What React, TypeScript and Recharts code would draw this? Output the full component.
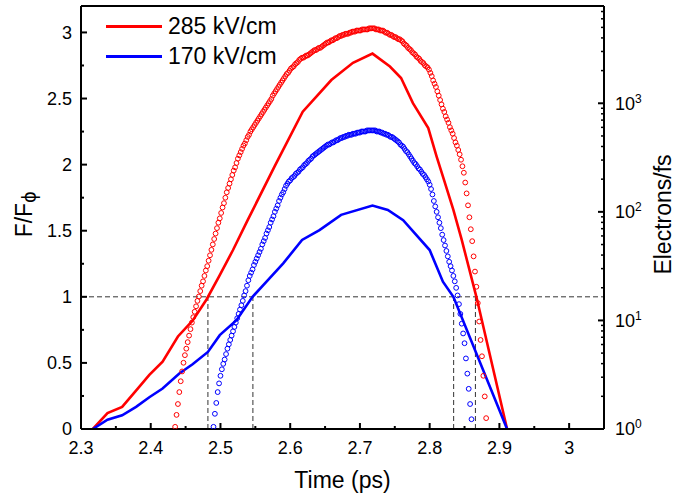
import React from 'react';
import { LineChart, Line, XAxis, YAxis, ReferenceLine, Legend } from 'recharts';

const FONT = '"Liberation Sans", Arial, Helvetica, sans-serif';
const RED = '#ff0000';
const BLUE = '#0000ff';
const DASH = '#333333';

const seriesNames = ['285 kV/cm', '170 kV/cm'];

// F/F(phi), left axis, solid lines
const redFieldTime = [2.317, 2.338, 2.359, 2.378, 2.398, 2.417, 2.439, 2.46, 2.48, 2.499, 2.518, 2.539, 2.578, 2.618, 2.659, 2.69, 2.718, 2.743, 2.759, 2.776, 2.798, 2.81, 2.822, 2.834, 2.846, 2.867, 2.911];
const redField = [0, 0.12, 0.167, 0.285, 0.41, 0.51, 0.7, 0.82, 0.98, 1.164, 1.354, 1.58, 1.99, 2.4, 2.64, 2.77, 2.84, 2.742, 2.655, 2.465, 2.276, 2.06, 1.86, 1.657, 1.43, 1.0, 0];

const blueFieldTime = [2.317, 2.338, 2.359, 2.379, 2.398, 2.417, 2.441, 2.46, 2.482, 2.499, 2.523, 2.546, 2.568, 2.59, 2.617, 2.642, 2.673, 2.718, 2.74, 2.762, 2.8, 2.819, 2.834, 2.911];
const blueField = [0, 0.07, 0.104, 0.167, 0.24, 0.306, 0.42, 0.49, 0.583, 0.71, 0.823, 1.0, 1.127, 1.253, 1.43, 1.505, 1.62, 1.69, 1.657, 1.58, 1.354, 1.114, 1.0, 0];

// Electrons/fs, right log axis: values read as decades (log10), one marker every 0.002 ps
const markerStep = 0.002;
const redElectronsStart = 2.435;
const redElectronsLog = [
  0.02, 0.13, 0.23, 0.34, 0.44, 0.53, 0.61, 0.68, 0.74, 0.8, 0.86, 0.92, 0.98, 1.03, 1.08, 1.13, 1.18, 1.22, 1.27, 1.32,
  1.36, 1.41, 1.46, 1.5, 1.55, 1.6, 1.65, 1.7, 1.75, 1.8, 1.85, 1.9, 1.94, 1.99, 2.04, 2.08, 2.13, 2.18, 2.22, 2.26,
  2.3, 2.34, 2.38, 2.41, 2.45, 2.49, 2.52, 2.55, 2.58, 2.61, 2.63, 2.66, 2.69, 2.71, 2.74, 2.76, 2.78, 2.8, 2.82, 2.84,
  2.86, 2.88, 2.9, 2.92, 2.94, 2.96, 2.98, 3.0, 3.02, 3.04, 3.07, 3.09, 3.11, 3.13, 3.15, 3.17, 3.19, 3.21, 3.23, 3.25,
  3.27, 3.28, 3.3, 3.32, 3.33, 3.34, 3.36, 3.37, 3.38, 3.4, 3.41, 3.42, 3.42, 3.43, 3.44, 3.44, 3.45, 3.46, 3.47, 3.48,
  3.49, 3.49, 3.5, 3.51, 3.51, 3.52, 3.53, 3.54, 3.55, 3.56, 3.56, 3.57, 3.58, 3.58, 3.59, 3.6, 3.6, 3.61, 3.62, 3.62,
  3.63, 3.63, 3.64, 3.64, 3.64, 3.65, 3.65, 3.66, 3.66, 3.66, 3.67, 3.67, 3.67, 3.67, 3.68, 3.68, 3.68, 3.68, 3.68, 3.69,
  3.69, 3.69, 3.69, 3.69, 3.68, 3.68, 3.68, 3.67, 3.67, 3.67, 3.66, 3.65, 3.65, 3.64, 3.63, 3.63, 3.62, 3.61, 3.61, 3.6,
  3.59, 3.59, 3.58, 3.57, 3.55, 3.54, 3.53, 3.51, 3.5, 3.49, 3.47, 3.46, 3.45, 3.43, 3.42, 3.41, 3.39, 3.38, 3.37, 3.35,
  3.34, 3.33, 3.31, 3.28, 3.25, 3.21, 3.18, 3.15, 3.11, 3.07, 3.03, 2.99, 2.95, 2.92, 2.88, 2.85, 2.82, 2.78, 2.75, 2.72,
  2.68, 2.64, 2.61, 2.57, 2.53, 2.48, 2.42, 2.36, 2.27, 2.17, 2.06, 1.95, 1.84, 1.73, 1.59, 1.45, 1.31, 1.16, 0.99, 0.82,
  0.67, 0.49, 0.3, 0.1,
];
const blueElectronsStart = 2.49;
const blueElectronsLog = [
  0.02, 0.14, 0.24, 0.34, 0.42, 0.49, 0.55, 0.6, 0.64, 0.69, 0.74, 0.78, 0.82, 0.86, 0.9, 0.94, 0.98, 1.02, 1.06, 1.1,
  1.14, 1.18, 1.23, 1.27, 1.32, 1.37, 1.41, 1.44, 1.47, 1.51, 1.54, 1.57, 1.6, 1.63, 1.66, 1.7, 1.73, 1.76, 1.8, 1.83,
  1.86, 1.9, 1.93, 1.96, 2.0, 2.03, 2.06, 2.1, 2.13, 2.16, 2.18, 2.21, 2.24, 2.26, 2.28, 2.29, 2.31, 2.32, 2.33, 2.35,
  2.36, 2.37, 2.39, 2.4, 2.41, 2.43, 2.44, 2.45, 2.47, 2.48, 2.49, 2.51, 2.52, 2.53, 2.54, 2.55, 2.56, 2.57, 2.58, 2.59,
  2.6, 2.61, 2.62, 2.62, 2.63, 2.64, 2.64, 2.65, 2.66, 2.66, 2.67, 2.68, 2.68, 2.69, 2.69, 2.7, 2.7, 2.71, 2.71, 2.71,
  2.72, 2.72, 2.72, 2.73, 2.73, 2.73, 2.74, 2.74, 2.74, 2.74, 2.75, 2.75, 2.75, 2.75, 2.75, 2.75, 2.75, 2.74, 2.74, 2.74,
  2.73, 2.73, 2.72, 2.72, 2.71, 2.71, 2.7, 2.69, 2.69, 2.68, 2.67, 2.66, 2.65, 2.64, 2.62, 2.61, 2.6, 2.58, 2.56, 2.55,
  2.53, 2.51, 2.49, 2.47, 2.45, 2.44, 2.42, 2.4, 2.39, 2.37, 2.35, 2.34, 2.32, 2.3, 2.28, 2.25, 2.21, 2.16, 2.1, 2.05,
  2.0, 1.95, 1.9, 1.85, 1.79, 1.74, 1.69, 1.64, 1.59, 1.54, 1.5, 1.46, 1.41, 1.36, 1.3, 1.23, 1.15, 1.06, 0.97, 0.88,
  0.79, 0.65, 0.51, 0.37, 0.23, 0.09,
];

// threshold F/F(phi) = 1 and the times where the field crosses it
const thresholdField = 1;
const crossingTimes = [2.482, 2.5465, 2.8344, 2.8656];

const xTicks = [2.3, 2.35, 2.4, 2.45, 2.5, 2.55, 2.6, 2.65, 2.7, 2.75, 2.8, 2.85, 2.9, 2.95, 3, 3.05];
const leftTicks = [0, 0.25, 0.5, 0.75, 1, 1.25, 1.5, 1.75, 2, 2.25, 2.5, 2.75, 3];
const rightTicks = [
  1, 2, 3, 4, 5, 6, 7, 8, 9,
  10, 20, 30, 40, 50, 60, 70, 80, 90,
  100, 200, 300, 400, 500, 600, 700, 800, 900,
  1000, 2000, 3000, 4000, 5000, 6000, 7000,
];

const redFieldData = redFieldTime.map((t, i) => ({ t, f: redField[i] }));
const blueFieldData = blueFieldTime.map((t, i) => ({ t, f: blueField[i] }));
const redElectronData = redElectronsLog.map((v, i) => ({ t: +(redElectronsStart + i * markerStep).toFixed(4), e: Math.pow(10, v) }));
const blueElectronData = blueElectronsLog.map((v, i) => ({ t: +(blueElectronsStart + i * markerStep).toFixed(4), e: Math.pow(10, v) }));

const isMultiple = (v: number, step: number) => Math.abs(v / step - Math.round(v / step)) < 1e-6;

const BottomTick = (props: any) => {
  const { x, y, payload } = props;
  const major = isMultiple(payload.value, 0.1);
  return (
    <g>
      <line x1={x} x2={x} y1={y} y2={y - (major ? 6 : 3)} stroke="#000" strokeWidth={2} />
      {major && (
        <text x={x} y={y + 12} dy="0.71em" textAnchor="middle" fontSize={18} fontFamily={FONT} fill="#000">
          {String(payload.value)}
        </text>
      )}
    </g>
  );
};

const LeftTick = (props: any) => {
  const { x, y, payload } = props;
  const major = isMultiple(payload.value, 0.5);
  return (
    <g>
      <line x1={x} x2={x + (major ? 6 : 3)} y1={y} y2={y} stroke="#000" strokeWidth={2} />
      {major && (
        <text x={x - 9} y={y} dy="0.36em" textAnchor="end" fontSize={18} fontFamily={FONT} fill="#000">
          {String(payload.value)}
        </text>
      )}
    </g>
  );
};

const RightTick = (props: any) => {
  const { x, y, payload } = props;
  const exp = Math.round(Math.log10(payload.value));
  const major = Math.abs(Math.pow(10, exp) - payload.value) < 1e-6;
  return (
    <g>
      <line x1={x} x2={x - (major ? 6 : 3)} y1={y} y2={y} stroke="#000" strokeWidth={major ? 2 : 1.5} />
      {major && (
        <text x={x + 11} y={y} dy="0.36em" fontSize={18} fontFamily={FONT} fill="#000">
          10<tspan dy={-7} fontSize={12}>{exp}</tspan>
        </text>
      )}
    </g>
  );
};

const BottomTitle = (props: any) => {
  const vb = props.viewBox || { x: 81, y: 429, width: 523, height: 66 };
  return (
    <text x={vb.x + vb.width / 2} y={vb.y + 59} textAnchor="middle" fontSize={23} fontFamily={FONT} fill="#000">
      Time (ps)
    </text>
  );
};

const LeftTitle = (props: any) => {
  const vb = props.viewBox || { x: 0, y: 6, width: 81, height: 423 };
  const cx = vb.x + 32;
  const cy = vb.y + vb.height / 2 - 3;
  return (
    <text x={cx} y={cy} transform={`rotate(-90, ${cx}, ${cy})`} textAnchor="middle" fontSize={23} fontFamily={FONT} fill="#000">
      F/F<tspan dy={4} fontSize={20}>ϕ</tspan>
    </text>
  );
};

const RightTitle = (props: any) => {
  const vb = props.viewBox || { x: 604, y: 6, width: 80, height: 423 };
  const cx = vb.x + 67;
  const cy = vb.y + vb.height / 2 - 3;
  return (
    <text x={cx} y={cy} transform={`rotate(-90, ${cx}, ${cy})`} textAnchor="middle" fontSize={23} fontFamily={FONT} fill="#000">
      Electrons/fs
    </text>
  );
};

const renderLegend = (props: any) => {
  const items = (props.payload || [])
    .filter((p: any) => seriesNames.includes(p.value))
    .sort((a: any, b: any) => seriesNames.indexOf(a.value) - seriesNames.indexOf(b.value));
  return (
    <div style={{ fontFamily: FONT, fontSize: 23, color: '#000' }}>
      {items.map((entry: any) => (
        <div key={entry.value} style={{ display: 'flex', alignItems: 'center', height: 30 }}>
          <span style={{ display: 'inline-block', width: 56, height: 3, background: entry.color, marginRight: 6 }} />
          <span style={{ lineHeight: '30px' }}>{entry.value}</span>
        </div>
      ))}
    </div>
  );
};

const App: React.FC = () => {
  const axisLine = { stroke: '#000', strokeWidth: 2 };
  return (
    <div style={{ position: 'absolute', left: 0, top: 0, width: 684, height: 495, background: '#fff', fontFamily: FONT }}>
      <LineChart width={684} height={495} margin={{ top: 6, right: 0, bottom: 0, left: 0 }}>
        <XAxis
          dataKey="t"
          type="number"
          domain={[2.3, 3.05]}
          allowDataOverflow
          ticks={xTicks}
          interval={0}
          tickSize={0}
          tickMargin={0}
          tickLine={false}
          tick={<BottomTick />}
          axisLine={axisLine}
          height={66}
          label={<BottomTitle />}
        />
        <YAxis
          yAxisId="left"
          type="number"
          domain={[0, 3.2]}
          allowDataOverflow
          ticks={leftTicks}
          interval={0}
          tickSize={0}
          tickMargin={0}
          tickLine={false}
          tick={<LeftTick />}
          axisLine={axisLine}
          width={81}
          label={<LeftTitle />}
        />
        <YAxis
          yAxisId="right"
          orientation="right"
          type="number"
          scale="log"
          domain={[1, 7870]}
          allowDataOverflow
          ticks={rightTicks}
          interval={0}
          tickSize={0}
          tickMargin={0}
          tickLine={false}
          tick={<RightTick />}
          axisLine={axisLine}
          width={80}
          label={<RightTitle />}
        />
        <ReferenceLine yAxisId="left" y={3.2} stroke="#000" strokeWidth={2} />
        <ReferenceLine yAxisId="left" y={thresholdField} stroke={DASH} strokeWidth={1} strokeDasharray="5 3" />
        {crossingTimes.map((t) => (
          <ReferenceLine
            key={t}
            yAxisId="left"
            segment={[{ x: t, y: 0 }, { x: t, y: thresholdField }]}
            stroke={DASH}
            strokeWidth={1}
            strokeDasharray="5 3"
          />
        ))}
        <Line
          yAxisId="right"
          data={redElectronData}
          dataKey="e"
          stroke="none"
          dot={{ r: 2.4, stroke: RED, strokeWidth: 1, fill: 'none' }}
          activeDot={false}
          legendType="none"
          isAnimationActive={false}
        />
        <Line
          yAxisId="right"
          data={blueElectronData}
          dataKey="e"
          stroke="none"
          dot={{ r: 2.4, stroke: BLUE, strokeWidth: 1, fill: 'none' }}
          activeDot={false}
          legendType="none"
          isAnimationActive={false}
        />
        <Line
          yAxisId="left"
          data={redFieldData}
          dataKey="f"
          name={seriesNames[0]}
          type="linear"
          stroke={RED}
          strokeWidth={2.6}
          dot={false}
          activeDot={false}
          isAnimationActive={false}
        />
        <Line
          yAxisId="left"
          data={blueFieldData}
          dataKey="f"
          name={seriesNames[1]}
          type="linear"
          stroke={BLUE}
          strokeWidth={2.6}
          dot={false}
          activeDot={false}
          isAnimationActive={false}
        />
        <Legend
          layout="vertical"
          align="center"
          verticalAlign="middle"
          content={renderLegend}
          wrapperStyle={{ left: 106, top: 11, width: 'auto', height: 'auto' }}
        />
      </LineChart>
    </div>
  );
};

export default App;
